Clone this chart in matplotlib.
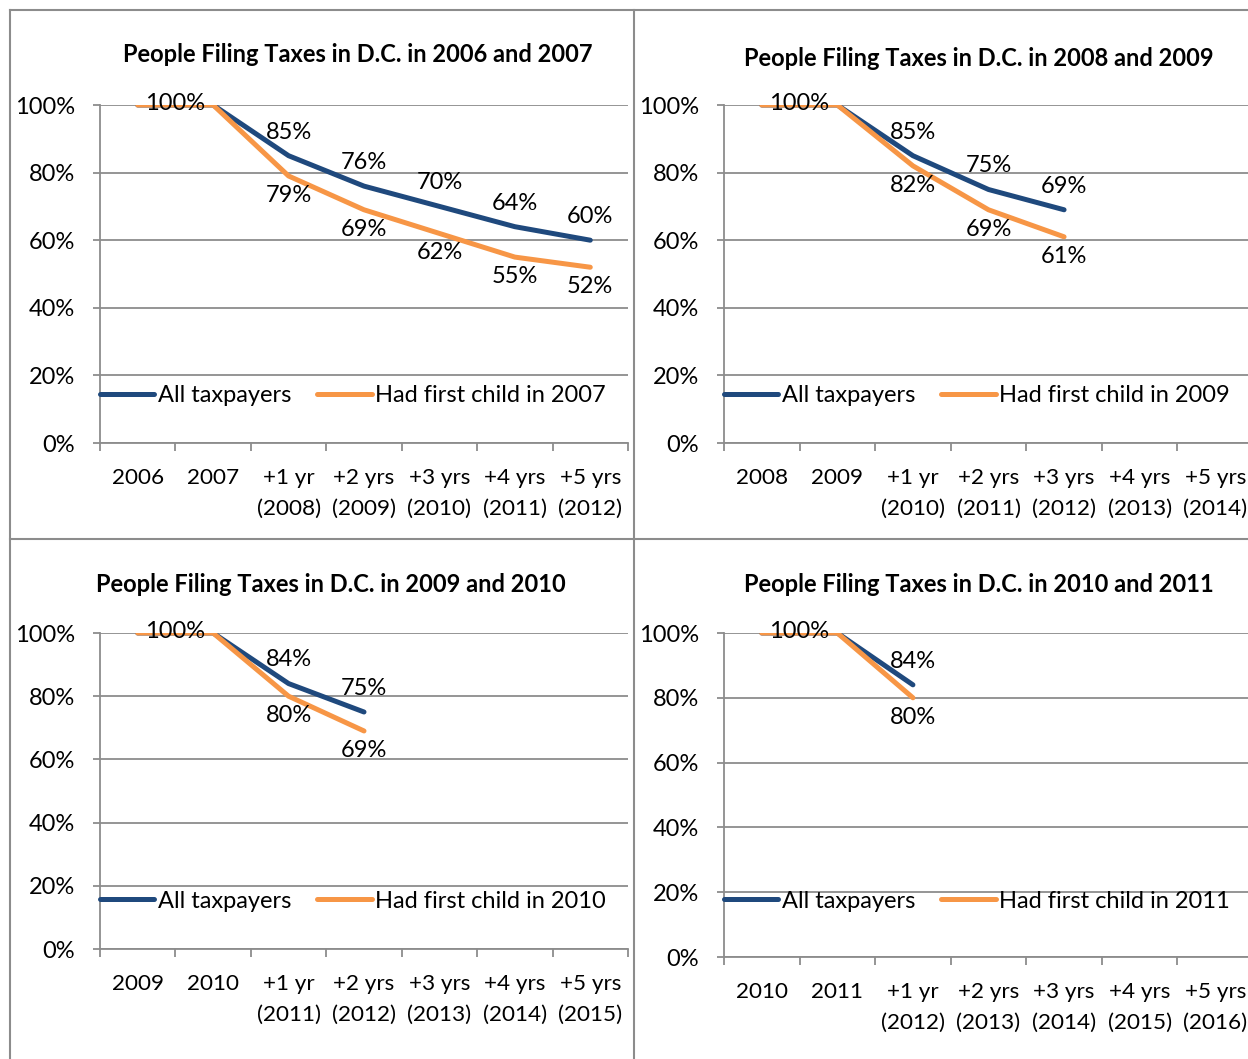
import numpy as np
import matplotlib
matplotlib.use('Agg')
import matplotlib.pyplot as plt
from matplotlib.lines import Line2D

plt.rcParams['font.family'] = ['Lato', 'DejaVu Sans']

# ---- data ----
titles = ['People Filing Taxes in D.C. in 2006 and 2007',
          'People Filing Taxes in D.C. in 2008 and 2009',
          'People Filing Taxes in D.C. in 2009 and 2010',
          'People Filing Taxes in D.C. in 2010 and 2011']
start_years = [2006, 2008, 2009, 2010]
child_years = [2007, 2009, 2010, 2011]

all_1 = [100, 100, 85, 76, 70, 64, 60]
child_1 = [100, 100, 79, 69, 62, 55, 52]
all_2 = [100, 100, 85, 75, 69]
child_2 = [100, 100, 82, 69, 61]
all_3 = [100, 100, 84, 75]
child_3 = [100, 100, 80, 69]
all_4 = [100, 100, 84]
child_4 = [100, 100, 80]

all_series = [all_1, all_2, all_3, all_4]
child_series = [child_1, child_2, child_3, child_4]

BLUE = '#1F497D'
ORANGE = '#F79646'
GRAY = '#8C8C8C'
W, H = 1248, 1059
FS = 17

def cat_labels(y0):
    labs = [str(y0), str(y0 + 1)]
    for k in range(1, 6):
        yr = 'yr' if k == 1 else 'yrs'
        labs.append('+%d %s\n(%d)' % (k, yr, y0 + 1 + k))
    return labs

# panel boxes in pixels: left, right, top(100%), bottom(0%)
# (right-hand panels run past the picture edge, as in the original)
boxes = [(100, 628, 105, 443), (724, 1253, 105, 443),
         (100, 628, 633, 949), (724, 1253, 633, 957)]
title_pos = [(358, 54), (979, 58), (331, 585), (979, 585)]

fig = plt.figure(figsize=(W / 100, H / 100), dpi=100)

for i in range(4):
    l, r, t, b = boxes[i]
    ax = fig.add_axes([l / W, 1 - b / H, (r - l) / W, (b - t) / H])
    x = np.arange(len(all_series[i]))
    ax.plot(x, all_series[i], color=BLUE, lw=3.6, solid_capstyle='round',
            solid_joinstyle='round', label='All taxpayers', zorder=3)
    ax.plot(x, child_series[i], color=ORANGE, lw=3.6, solid_capstyle='round',
            solid_joinstyle='round', label='Had first child in %d' % child_years[i], zorder=4)

    ax.set_xlim(-0.5, 6.5)
    ax.set_ylim(0, 100)
    ax.set_yticks(range(0, 101, 20))
    ax.set_yticklabels(['%d%%' % v for v in range(0, 101, 20)], fontsize=FS)
    ax.set_xticks(range(7))
    ax.set_xticklabels(cat_labels(start_years[i]), fontsize=FS - 0.8, linespacing=1.7)
    ax.set_xticks(np.arange(-0.5, 7, 1), minor=True)
    ax.tick_params(axis='x', which='major', length=0, pad=18)
    ax.tick_params(axis='x', which='minor', length=6, width=1.3, color=GRAY)
    ax.tick_params(axis='y', length=5, width=1.3, color=GRAY, pad=13)
    ax.grid(axis='y', color=GRAY, lw=1.3)
    ax.set_axisbelow(True)
    for s in ['top', 'right']:
        ax.spines[s].set_visible(False)
    for s in ['left', 'bottom']:
        ax.spines[s].set_color(GRAY)
        ax.spines[s].set_linewidth(1.3)

    # data labels
    ax.annotate('100%', (0, 100), xytext=(27, 1), textcoords='offset points',
                ha='center', va='center', fontsize=FS, zorder=5)
    for j in range(2, len(x)):
        ax.annotate('%d%%' % all_series[i][j], (j, all_series[i][j]), xytext=(0, 17),
                    textcoords='offset points', ha='center', va='center', fontsize=FS, zorder=5)
        ax.annotate('%d%%' % child_series[i][j], (j, child_series[i][j]), xytext=(0, -14),
                    textcoords='offset points', ha='center', va='center', fontsize=FS, zorder=5)

    leg_y = (b - (396 if i < 2 else 901)) / (b - t)
    ax.legend(loc='center left', bbox_to_anchor=(0, leg_y), ncol=2, frameon=False,
              fontsize=FS, handlelength=2.3, handletextpad=0.15, columnspacing=1.1,
              borderpad=0, borderaxespad=0)

    fig.text(title_pos[i][0] / W, 1 - title_pos[i][1] / H, titles[i], ha='center',
             va='center', fontsize=FS, fontweight='bold')

# chart area borders
for xs, ys in [([10, 10], [10, H]), ([634, 634], [10, H]),
               ([10, W], [10, 10]), ([10, W], [539, 539])]:
    fig.add_artist(Line2D([v / W for v in xs], [1 - v / H for v in ys],
                          color=GRAY, lw=1.5))

fig.savefig('out.png', dpi=100)
